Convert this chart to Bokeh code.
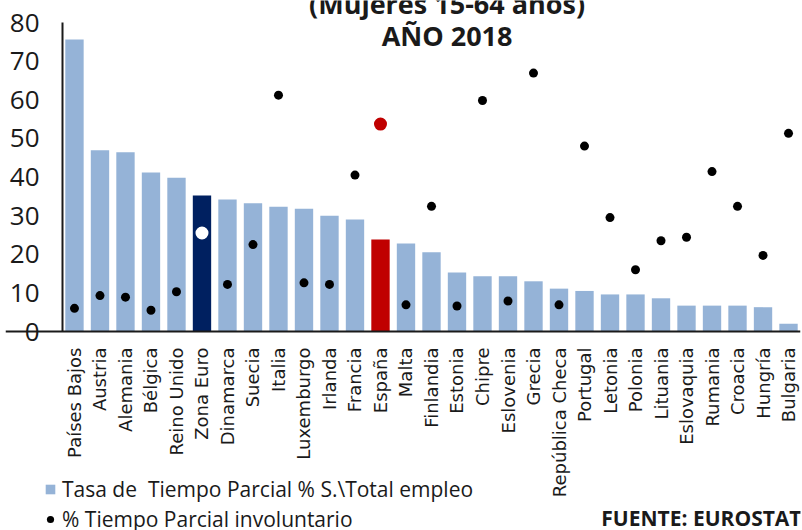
import math
from bokeh.plotting import figure
from bokeh.models import Range1d, FixedTicker, Label, Legend, LegendItem, ColumnDataSource, Span
from bokeh.core.properties import value
from bokeh.embed import file_html
from bokeh.resources import INLINE

categories = ["Países Bajos", "Austria", "Alemania", "Bélgica", "Reino Unido", "Zona Euro",
              "Dinamarca", "Suecia", "Italia", "Luxemburgo", "Irlanda", "Francia", "España",
              "Malta", "Finlandia", "Estonia", "Chipre", "Eslovenia", "Grecia", "República Checa",
              "Portugal", "Letonia", "Polonia", "Lituania", "Eslovaquia", "Rumania", "Croacia",
              "Hungría", "Bulgaria"]
tasa_parcial = [75.6, 46.9, 46.4, 41.2, 39.8, 35.2, 34.2, 33.2, 32.3, 31.8, 30.0, 29.0, 23.8,
                22.8, 20.5, 15.3, 14.3, 14.3, 13.0, 11.1, 10.5, 9.6, 9.6, 8.6, 6.7, 6.7, 6.7,
                6.3, 2.0]
involuntario = [6.0, 9.3, 8.9, 5.5, 10.3, 25.5, 12.2, 22.5, 61.2, 12.6, 12.2, 40.5, 53.7,
                6.9, 32.4, 6.6, 59.8, 7.9, 66.9, 6.9, 48.0, 29.5, 16.0, 23.5, 24.4, 41.4, 32.4,
                19.7, 51.3]
y_ticks = [0, 10, 20, 30, 40, 50, 60, 70, 80]
y_tick_labels = [str(t) for t in y_ticks]

title_lines = ["(Mujeres 15-64 años)", "AÑO 2018"]
legend_labels = ["Tasa de  Tiempo Parcial % S.\\Total empleo", "% Tiempo Parcial involuntario"]
source_text = "FUENTE: EUROSTAT"

BLUE = "#95B3D7"
NAVY = "#002060"
RED = "#C00000"
INK = "#1a1a1a"
AXIS_X = -0.47  # left edge of the category band, where the y axis sits

xs = list(range(len(categories)))
bar_colors = [NAVY if c == "Zona Euro" else RED if c == "España" else BLUE for c in categories]
dot_colors = ["white" if c == "Zona Euro" else RED if c == "España" else "black" for c in categories]
dot_sizes = [13 if c in ("Zona Euro", "España") else 9 for c in categories]

src = ColumnDataSource(dict(x=xs, cat=categories, tasa=tasa_parcial, inv=involuntario,
                            bc=bar_colors, dc=dot_colors, ds=dot_sizes))
tick_src = ColumnDataSource(dict(y=y_ticks, lab=y_tick_labels))

# the frame covers nearly the whole canvas so that titles, legend and notes are not clipped
p = figure(width=802, height=530, output_backend="svg", toolbar_location=None,
           x_range=Range1d(-2.705, 28.47), y_range=Range1d(-51.52, 85.70),
           x_axis_location=None,
           min_border_left=5, min_border_right=2, min_border_top=0, min_border_bottom=0)
p.outline_line_color = None
p.xgrid.visible = False
p.ygrid.visible = False
p.background_fill_color = "white"
p.border_fill_color = "white"

bars = p.vbar(x="x", top="tasa", width=0.72, bottom=0, source=src,
              fill_color="bc", line_color=None)
dots = p.scatter(x="x", y="inv", size="ds", source=src, fill_color="dc", line_color=None)

# category labels under the baseline
p.text(x="x", y=0, text="cat", source=src, angle=math.pi / 2, text_align="right",
       text_baseline="middle", y_offset=16, text_font=value("DejaVu Sans"),
       text_font_size="18px", text_color=INK)

# y tick labels
p.text(x=AXIS_X, y="y", text="lab", source=tick_src, text_align="right",
       text_baseline="middle", x_offset=-23, text_font=value("Open Sans"),
       text_font_size="26px", text_color=INK)

# x axis line at 0 (from the y axis to the right end)
p.add_layout(Span(location=0, dimension="width", line_width=2, line_color=INK))

ya = p.yaxis[0]
ya.fixed_location = AXIS_X
ya.bounds = (0, 80)
ya.ticker = FixedTicker(ticks=[])
ya.major_label_standoff = 0
ya.major_tick_line_color = None
ya.major_tick_out = 0
ya.major_tick_in = 0
ya.minor_tick_line_color = None
ya.axis_line_width = 2
ya.axis_line_color = INK

for txt, yv in zip(title_lines, [85.05, 76.76]):
    p.add_layout(Label(x=14.61, y=yv, text=txt, text_align="center", text_baseline="middle",
                       text_font="Open Sans", text_font_style="bold", text_font_size="27px",
                       text_color=INK))

p.add_layout(Label(x=28.51, y=-48.2, text=source_text, text_align="right",
                   text_baseline="middle", text_font="Open Sans", text_font_style="bold",
                   text_font_size="21px", text_color=INK))

common = dict(padding=0, margin=0, border_line_color=None, background_fill_alpha=0,
              label_text_font="Open Sans", label_text_font_size="21px",
              label_text_color=INK)
leg1 = Legend(items=[LegendItem(label=legend_labels[0], renderers=[bars], index=0)],
              location=(39, 27), glyph_width=12, glyph_height=12, label_standoff=6, **common)
leg2 = Legend(items=[LegendItem(label=legend_labels[1], renderers=[dots], index=0)],
              location=(36, -3), glyph_width=18, glyph_height=18, label_standoff=3, **common)
p.add_layout(leg1, "center")
p.add_layout(leg2, "center")

open("out.html", "w").write(file_html(p, INLINE))
